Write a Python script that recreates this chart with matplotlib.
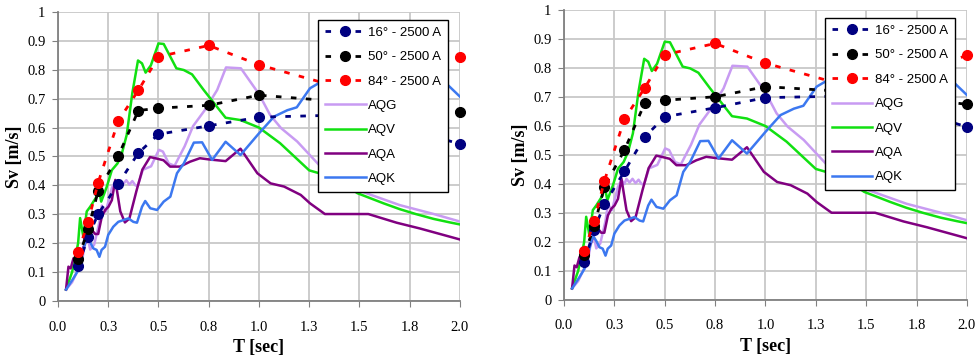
import matplotlib
matplotlib.use("Agg")
import matplotlib.pyplot as plt

# ---------------- data ----------------
T_uhs = [0.1, 0.15, 0.2, 0.3, 0.4, 0.5, 0.75, 1.0, 1.5, 2.0]

# left panel
navy_L = [0.120, 0.223, 0.301, 0.406, 0.512, 0.577, 0.606, 0.636, 0.645, 0.543]
black_L = [0.145, 0.249, 0.381, 0.502, 0.659, 0.667, 0.677, 0.712, 0.685, 0.653]
red_L = [0.168, 0.274, 0.410, 0.623, 0.729, 0.845, 0.884, 0.817, 0.720, 0.843]
# right panel
navy_R = [0.130, 0.243, 0.330, 0.444, 0.562, 0.632, 0.663, 0.698, 0.705, 0.597]
black_R = [0.155, 0.255, 0.390, 0.517, 0.678, 0.689, 0.701, 0.736, 0.715, 0.675]
red_R = [0.168, 0.273, 0.410, 0.624, 0.731, 0.846, 0.885, 0.817, 0.720, 0.844]

T_AQG = [0.04, 0.07, 0.097, 0.115, 0.13, 0.147, 0.16, 0.18, 0.205, 0.218, 0.238, 0.268,
         0.285, 0.30, 0.31, 0.325, 0.34, 0.355, 0.37, 0.385, 0.397, 0.422, 0.463, 0.502,
         0.522, 0.551, 0.58, 0.63, 0.672, 0.73, 0.792, 0.836, 0.91, 1.0, 1.055, 1.11,
         1.19, 1.30, 1.49, 1.70, 1.87, 2.0]
Sv_AQG = [0.04, 0.065, 0.105, 0.12, 0.184, 0.224, 0.178, 0.195, 0.27, 0.33, 0.31, 0.391,
          0.414, 0.40, 0.418, 0.405, 0.418, 0.403, 0.415, 0.40, 0.399, 0.454, 0.466, 0.523,
          0.517, 0.476, 0.468, 0.535, 0.605, 0.66, 0.73, 0.808, 0.805, 0.716, 0.644, 0.598,
          0.552, 0.47, 0.384, 0.332, 0.301, 0.275]

T_AQV = [0.04, 0.07, 0.085, 0.1, 0.11, 0.126, 0.143, 0.16, 0.192, 0.2, 0.215, 0.243, 0.268,
         0.296, 0.318, 0.342, 0.37, 0.398, 0.418, 0.436, 0.462, 0.5, 0.526, 0.589, 0.626,
         0.667, 0.725, 0.784, 0.834, 0.908, 1.0, 1.105, 1.25, 1.30, 1.35, 1.49, 1.62, 1.70,
         1.78, 1.87, 1.95, 2.0]
Sv_AQV = [0.04, 0.10, 0.148, 0.2, 0.287, 0.223, 0.31, 0.326, 0.361, 0.40, 0.344, 0.396,
          0.453, 0.476, 0.511, 0.575, 0.72, 0.832, 0.822, 0.79, 0.815, 0.891, 0.889, 0.805,
          0.799, 0.784, 0.73, 0.678, 0.634, 0.626, 0.600, 0.546, 0.452, 0.442, 0.44, 0.373,
          0.338, 0.318, 0.301, 0.284, 0.272, 0.265]

T_AQA = [0.04, 0.052, 0.063, 0.077, 0.093, 0.11, 0.135, 0.151, 0.168, 0.185, 0.2, 0.218,
         0.235, 0.251, 0.268, 0.285, 0.31, 0.333, 0.355, 0.39, 0.42, 0.458, 0.484, 0.525,
         0.558, 0.607, 0.657, 0.706, 0.75, 0.834, 0.908, 0.992, 1.058, 1.125, 1.208, 1.254,
         1.328, 1.544, 1.685, 1.801, 2.0]
Sv_AQA = [0.04, 0.119, 0.113, 0.148, 0.142, 0.16, 0.2, 0.234, 0.246, 0.232, 0.232, 0.292,
          0.315, 0.326, 0.349, 0.419, 0.31, 0.272, 0.285, 0.38, 0.455, 0.498, 0.494, 0.487,
          0.465, 0.465, 0.482, 0.494, 0.49, 0.484, 0.527, 0.442, 0.407, 0.396, 0.367, 0.338,
          0.301, 0.301, 0.271, 0.251, 0.213]

T_AQK = [0.04, 0.076, 0.101, 0.126, 0.143, 0.159, 0.176, 0.192, 0.206, 0.217, 0.234, 0.25,
         0.275, 0.30, 0.325, 0.35, 0.375, 0.393, 0.418, 0.434, 0.459, 0.493, 0.526, 0.559,
         0.592, 0.626, 0.676, 0.717, 0.767, 0.834, 0.908, 1.0, 1.075, 1.141, 1.188, 1.254,
         1.296, 1.45, 1.70, 1.94, 2.0]
Sv_AQK = [0.04, 0.078, 0.107, 0.177, 0.222, 0.205, 0.182, 0.177, 0.153, 0.177, 0.188, 0.229,
          0.257, 0.274, 0.28, 0.286, 0.274, 0.271, 0.326, 0.346, 0.321, 0.315, 0.344, 0.361,
          0.442, 0.476, 0.548, 0.549, 0.488, 0.551, 0.505, 0.58, 0.638, 0.66, 0.67, 0.736,
          0.753, 0.79, 0.80, 0.747, 0.707]

x_ticks = [0.0, 0.25, 0.5, 0.75, 1.0, 1.25, 1.5, 1.75, 2.0]
x_ticklabels = ["0.0", "0.3", "0.5", "0.8", "1.0", "1.3", "1.5", "1.8", "2.0"]
y_ticks = [0, 0.1, 0.2, 0.3, 0.4, 0.5, 0.6, 0.7, 0.8, 0.9, 1.0]
y_ticklabels = ["0", "0.1", "0.2", "0.3", "0.4", "0.5", "0.6", "0.7", "0.8", "0.9", "1"]

labels_uhs = ["16° - 2500 A", "50° - 2500 A", "84° - 2500 A"]
labels_rec = ["AQG", "AQV", "AQA", "AQK"]
col_uhs = ["#000080", "#000000", "#FF0000"]
col_rec = ["#C89BF2", "#11E011", "#800080", "#3C78F0"]

# ---------------- figure ----------------
fig = plt.figure(figsize=(9.78, 3.61), dpi=100)
axL = fig.add_axes([0.0593, 0.166, 0.411, 0.801])
axR = fig.add_axes([0.5767, 0.169, 0.412, 0.803])

serif = "Liberation Serif"
sans = "Liberation Sans"


def draw(ax, navy, black, red):
    handles = []
    for vals, c, lab in zip([navy, black, red], col_uhs, labels_uhs):
        h, = ax.plot(T_uhs, vals, color=c, lw=2.0, ls=(0, (2.0, 3.4)),
                     marker="o", ms=7.0, mec=c, mfc=c, zorder=5, clip_on=False,
                     label=lab)
        handles.append(h)
    for (tt, ss), c, lab in zip([(T_AQG, Sv_AQG), (T_AQV, Sv_AQV), (T_AQA, Sv_AQA),
                                 (T_AQK, Sv_AQK)], col_rec, labels_rec):
        h, = ax.plot(tt, ss, color=c, lw=1.8, zorder=3, label=lab)
        handles.append(h)
    ax.set_xlim(0, 2.0)
    ax.set_ylim(0, 1.0)
    ax.set_xticks(x_ticks)
    ax.set_xticklabels(x_ticklabels, fontfamily=serif, fontsize=10.5)
    ax.set_yticks(y_ticks)
    ax.set_yticklabels(y_ticklabels, fontfamily=serif, fontsize=10.5)
    ax.grid(True, color="#C8C8C8", lw=1.3, zorder=0)
    ax.set_axisbelow(True)
    for s in ["top", "right"]:
        ax.spines[s].set_visible(False)
    for s in ["left", "bottom"]:
        ax.spines[s].set_color("#808080")
        ax.spines[s].set_linewidth(1.3)
    ax.tick_params(axis="x", direction="out", length=4, color="#808080", pad=10)
    ax.tick_params(axis="y", direction="out", length=4, color="#808080", pad=5)
    ax.set_xlabel("T [sec]", fontfamily=serif, fontweight="bold", fontsize=13, labelpad=4)
    ax.set_ylabel("Sv [m/s]", fontfamily=serif, fontweight="bold", fontsize=13, labelpad=3)
    leg = ax.legend(handles=handles, loc="upper right", bbox_to_anchor=(0.97, 0.972),
                    prop={"family": sans, "size": 9.5}, fancybox=False, framealpha=1,
                    edgecolor="black", handlelength=3.1, handletextpad=0.2,
                    labelspacing=0.92, numpoints=1, borderpad=0.5, borderaxespad=0)
    leg.get_frame().set_linewidth(1.0)
    leg.set_zorder(10)


draw(axL, navy_L, black_L, red_L)
draw(axR, navy_R, black_R, red_R)

fig.savefig("out.png", dpi=100)
